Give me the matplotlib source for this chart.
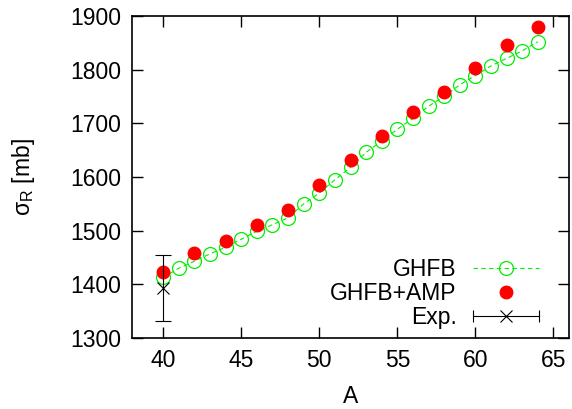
import matplotlib
matplotlib.use('Agg')
import matplotlib.pyplot as plt
from matplotlib.lines import Line2D
from matplotlib.legend_handler import HandlerBase

plt.rcParams['font.family'] = ['Liberation Sans', 'DejaVu Sans']
plt.rcParams['mathtext.fontset'] = 'custom'
plt.rcParams['mathtext.rm'] = 'Liberation Sans'
plt.rcParams['mathtext.it'] = 'Liberation Sans'

# GHFB (every A)
a_ghfb = list(range(40, 65))
sig_ghfb = [1413, 1430, 1443, 1457, 1469, 1484, 1499, 1511, 1524, 1550,
            1570, 1595, 1618, 1646, 1667, 1689, 1709, 1732, 1750, 1772,
            1789, 1807, 1821, 1835, 1852]

# GHFB+AMP (even A)
a_amp = list(range(40, 65, 2))
sig_amp = [1423, 1458, 1481, 1510, 1538, 1586, 1631, 1677, 1721, 1759,
           1803, 1846, 1879]

# experiment
a_exp = [40]
sig_exp = [1393]
err_exp = [61]

FS = 16.5


class HandlerXErr(HandlerBase):
    # gnuplot-like legend sample: horizontal bar with end caps and a cross
    def create_artists(self, legend, orig_handle, xdescent, ydescent,
                       width, height, fontsize, trans):
        y = height / 2 - ydescent
        x0, x1 = -xdescent, width - xdescent
        line = Line2D([x0, x1], [y, y], color='black', lw=0.8)
        caps = Line2D([x0, x1], [y, y], ls='none', marker='|', ms=8,
                      mew=0.8, color='black')
        mid = Line2D([(x0 + x1) / 2], [y], ls='none', marker='x', ms=8,
                     mew=0.8, color='black')
        for art in (line, caps, mid):
            art.set_transform(trans)
        return [line, caps, mid]


fig = plt.figure(figsize=(5.72, 4.09), dpi=100)
ax = fig.add_axes([0.2308, 0.1736, 0.7640, 0.7873])

h1, = ax.plot(a_ghfb, sig_ghfb, ls=(0, (4, 3)), lw=0.8, color='#00ee00',
              marker='o', ms=10, mfc='none', mec='#00ee00', mew=0.9,
              label='GHFB')
h2, = ax.plot(a_amp, sig_amp, ls='none', marker='o', ms=9, color='red',
              mec='red', label='GHFB+AMP')
h3 = ax.errorbar(a_exp, sig_exp, yerr=err_exp, fmt='x', color='black',
                 ms=8, mew=0.8, elinewidth=0.8, capsize=6, capthick=0.8)

ax.set_xlim(38, 66)
ax.set_ylim(1300, 1900)
ax.set_xticks([40, 45, 50, 55, 60, 65])
ax.set_yticks(range(1300, 1901, 100))
ax.tick_params(direction='in', length=8, width=1, top=True, right=True,
               labelsize=FS, pad=8)
for s in ax.spines.values():
    s.set_linewidth(1.2)

ax.set_xlabel('A', fontsize=FS, labelpad=9)
ax.set_ylabel(r'$\mathrm{\sigma_R}$ [mb]', fontsize=FS, labelpad=24)

ax.legend([h1, h2, h3], ['GHFB', 'GHFB+AMP', 'Exp.'], loc='lower right',
          markerfirst=False, frameon=False, fontsize=FS, numpoints=1,
          handlelength=2.9, handletextpad=0.7, labelspacing=0.05,
          borderaxespad=0.0, bbox_to_anchor=(0.953, 0.0),
          handler_map={h3: HandlerXErr()})

fig.savefig('out.png', dpi=100)
